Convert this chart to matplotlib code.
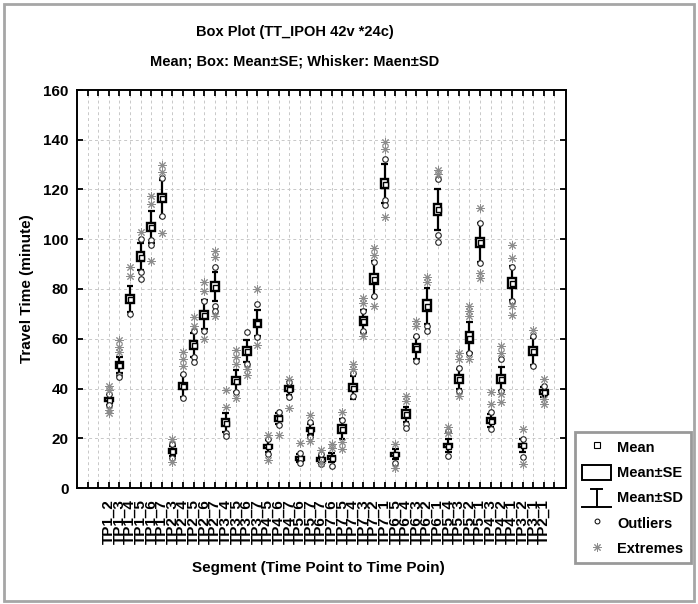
import matplotlib
matplotlib.use("Agg")
import matplotlib.pyplot as plt
from matplotlib.patches import Rectangle, Patch
from matplotlib.lines import Line2D
from matplotlib.legend_handler import HandlerBase
import numpy as np

plt.rcParams['font.family'] = ['Liberation Sans', 'DejaVu Sans']
plt.rcParams['font.weight'] = 'bold'

# ---------------- data ----------------
labels = ["TP1_2", "TP1_3", "TP1_4", "TP1_5", "TP1_6", "TP1_7",
          "TP2_3", "TP2_4", "TP2_5", "TP2_6", "TP2_7",
          "TP3_4", "TP3_5", "TP3_6", "TP3_7",
          "TP4_5", "TP4_6", "TP4_7",
          "TP5_6", "TP5_7", "TP6_7",
          "TP7_6", "TP7_5", "TP7_4", "TP7_3", "TP7_2", "TP7_1",
          "TP6_5", "TP6_4", "TP6_3", "TP6_2", "TP6_1",
          "TP5_4", "TP5_3", "TP5_2", "TP5_1",
          "TP4_3", "TP4_2", "TP4_1",
          "TP3_2", "TP3_1", "TP2_1"]

means = [35.5, 49.6, 76.0, 93.0, 105.0, 116.5,
         14.8, 41.0, 57.6, 69.7, 81.0,
         26.3, 43.1, 55.0, 66.3,
         16.7, 28.0, 40.0,
         12.0, 23.5, 11.5,
         12.2, 23.7, 40.4, 67.1, 84.0, 122.4,
         13.5, 29.7, 56.4, 73.3, 112.0,
         17.0, 43.7, 60.4, 98.7,
         27.1, 43.7, 82.4,
         17.1, 55.0, 38.6]

se = [0.7, 1.2, 1.7, 1.8, 1.6, 1.6,
      0.7, 1.3, 1.6, 1.6, 1.8,
      1.4, 1.4, 1.6, 1.4,
      0.7, 1.1, 0.9,
      0.6, 0.7, 0.6,
      0.6, 1.5, 1.6, 1.6, 1.9, 1.8,
      0.7, 1.6, 1.6, 2.1, 2.2,
      0.7, 1.6, 2.2, 1.9,
      1.0, 1.6, 1.9,
      0.7, 1.6, 0.7]

sd = [2.3, 3.2, 5.2, 5.5, 6.4, 7.5,
      2.0, 4.3, 4.9, 5.9, 5.7,
      3.7, 4.5, 4.3, 5.3,
      2.4, 2.3, 2.5,
      1.7, 2.2, 1.4,
      1.7, 4.0, 4.7, 4.6, 7.3, 8.0,
      2.0, 3.0, 4.5, 7.2, 8.2,
      2.5, 4.0, 6.2, 8.0,
      2.5, 4.8, 7.0,
      2.5, 5.5, 2.2]

outliers = [[37.7, 33.3], [45.5, 44.5], [70.0], [100.0, 86.7, 84.0], [99.5, 97.5], [124.5, 109.4],
            [17.5, 12.2], [46.0, 36.0], [63.3, 52.7, 50.7], [75.3, 63.3], [88.7, 73.3, 71.3],
            [22.0, 21.0], [38.7], [62.7, 50.0], [74.0, 60.7],
            [19.5, 13.5], [30.7, 25.3], [42.7, 36.7],
            [14.0, 10.0], [26.5, 20.5], [13.5, 9.5],
            [9.0], [27.5], [46.4, 37.0], [71.0, 63.0], [90.7, 77.0], [132.4, 115.7, 113.7],
            [10.0], [25.7, 24.0], [61.0, 51.0], [65.0, 63.0], [124.4, 101.7, 99.0],
            [23.0, 13.0], [48.4, 39.0], [54.4], [106.4, 90.4],
            [30.4, 23.7], [51.7, 39.0], [89.0, 75.0],
            [19.7, 12.4], [61.0, 49.0], [41.0]]

extremes = [[41.0, 39.5, 31.5, 30.0], [59.3, 56.7, 54.5], [88.7, 85.3], [103.0], [117.5, 114.0, 91.3], [130.0, 127.2, 102.4],
            [19.5, 10.5], [54.7, 52.0, 49.0], [68.7, 65.3], [82.7, 79.0, 60.0], [95.3, 92.7, 69.3],
            [39.3, 32.7], [55.3, 52.7, 50.0, 36.0], [48.0, 45.3], [80.0, 57.3],
            [21.3, 11.3], [21.3], [44.0, 32.0],
            [18.0], [29.5, 18.7], [15.3, 10.0],
            [17.5, 16.0], [30.4, 18.4, 15.7], [49.7, 47.7], [76.4, 74.4, 61.0], [96.4, 93.7, 73.0], [139.0, 136.4, 109.0],
            [17.5, 8.0], [37.0, 35.0], [67.0, 65.0], [85.0, 83.0], [127.7, 126.4],
            [24.4, 22.0], [54.4, 51.7, 37.0], [73.0, 71.0, 69.0, 51.7], [112.4, 86.4, 84.4],
            [38.4, 33.7], [57.0, 54.4, 37.7, 34.4], [97.7, 92.4, 73.0, 69.7],
            [23.7, 9.7], [63.7], [43.7, 35.7, 33.7]]

yticks = [0, 20, 40, 60, 80, 100, 120, 140, 160]

# ---------------- figure ----------------
W, H = 698, 604
fig = plt.figure(figsize=(W / 100, H / 100), dpi=100)
ax = fig.add_axes([77 / W, 1 - 488 / H, (566 - 77) / W, (488 - 90) / H])

pos = np.arange(len(labels)) + 3
m = np.array(means)
s_e = np.array(se)
s_d = np.array(sd)

bw = 0.72
cw = 0.62
lw = 1.7

# whiskers
ax.vlines(pos, m - s_d, m + s_d, color='black', lw=1.6, zorder=2)
ax.hlines(m + s_d, pos - cw / 2, pos + cw / 2, color='black', lw=1.6, zorder=2)
ax.hlines(m - s_d, pos - cw / 2, pos + cw / 2, color='black', lw=1.6, zorder=2)
# boxes
for x, mm, e in zip(pos, m, s_e):
    ax.add_patch(Rectangle((x - bw / 2, mm - e), bw, 2 * e, facecolor='white',
                           edgecolor='black', lw=lw, zorder=3))
# means
ax.plot(pos, m, ls='none', marker='s', ms=3.6, mfc='white', mec='black', mew=1.0, zorder=4)
# outliers / extremes
ox = [x for x, o in zip(pos, outliers) for _ in o]
oy = [v for o in outliers for v in o]
ex = [x for x, e in zip(pos, extremes) for _ in e]
ey = [v for e in extremes for v in e]
ax.plot(ox, oy, ls='none', marker='o', ms=4, mfc='white', mec='#222222', mew=0.8, zorder=5)
ax.plot(ex, ey, ls='none', marker=(8, 2, 0), ms=6, color='#8c8c8c', mew=0.7, zorder=5)

ax.set_xlim(0, 46.1)
ax.set_ylim(0, 160)
ax.set_xticks(np.arange(1, 46))
ax.set_xticklabels([''] * 2 + labels + [''], rotation=90, fontsize=11, fontweight='bold')
ax.set_yticks(yticks)
ax.set_yticklabels([str(v) for v in yticks], fontsize=11, fontweight='bold')
ax.tick_params(direction='in', top=True, right=True, length=4, width=1.3)
ax.tick_params(axis='x', pad=8)
ax.tick_params(axis='y', pad=6)
for sp in ax.spines.values():
    sp.set_linewidth(1.4)
ax.grid(True, color='#c8c8c8', ls=(0, (3, 3)), lw=0.7)
ax.set_axisbelow(True)

# titles and axis labels
fig.text(295 / W, 1 - 32 / H, 'Box Plot (TT_IPOH 42v *24c)', ha='center', va='center',
         fontsize=10.5, fontweight='bold')
fig.text(295 / W, 1 - 62 / H, 'Mean; Box: Mean±SE; Whisker: Maen±SD', ha='center', va='center',
         fontsize=10.5, fontweight='bold')
fig.text(27 / W, 1 - 289 / H, 'Travel Time (minute)', rotation=90, ha='center', va='center',
         fontsize=11, fontweight='bold')
fig.text(318 / W, 1 - 568 / H, 'Segment (Time Point to Time Poin)', ha='center', va='center',
         fontsize=11, fontweight='bold')


# legend
class HandlerIBeam(HandlerBase):
    def create_artists(self, legend, orig_handle, xdescent, ydescent, width, height, fontsize, trans):
        x0, y0 = -xdescent, -ydescent
        cx = x0 + width / 2
        top = y0 + height * 1.05
        bot = y0 - height * 0.15
        a1 = Line2D([cx, cx], [bot, top], color='black', lw=1.4, transform=trans)
        a2 = Line2D([cx - width * 0.18, cx + width * 0.18], [top, top], color='black', lw=1.4, transform=trans)
        a3 = Line2D([x0, x0 + width], [bot, bot], color='black', lw=1.4, transform=trans)
        return [a1, a2, a3]


h_mean = Line2D([], [], ls='none', marker='s', ms=4, mfc='white', mec='black', mew=0.8)
h_se = Patch(facecolor='white', edgecolor='black', lw=1.4)
h_sd = Line2D([], [], color='black')
h_out = Line2D([], [], ls='none', marker='o', ms=3.5, mfc='white', mec='black', mew=0.7)
h_ext = Line2D([], [], ls='none', marker=(8, 2, 0), ms=6, color='#8c8c8c', mew=0.7)

leg = fig.legend([h_mean, h_se, h_sd, h_out, h_ext],
                 ['Mean', 'Mean±SE', 'Mean±SD', 'Outliers', 'Extremes'],
                 handler_map={h_sd: HandlerIBeam()},
                 loc='upper left', bbox_to_anchor=(575 / W, 1 - 432 / H),
                 bbox_transform=fig.transFigure, borderaxespad=0,
                 prop={'size': 10.5, 'weight': 'bold'}, handlelength=1.95, handleheight=1.2,
                 handletextpad=0.45, labelspacing=0.68, borderpad=0.5,
                 fancybox=False, framealpha=1, edgecolor='#999999')
leg.get_frame().set_linewidth(2)

# figure frame
fig.add_artist(Rectangle((4 / W, 3 / H), 690 / W, 597 / H, transform=fig.transFigure,
                         fill=False, edgecolor='#a6a6a6', lw=2))

fig.savefig('out.png', dpi=100)
